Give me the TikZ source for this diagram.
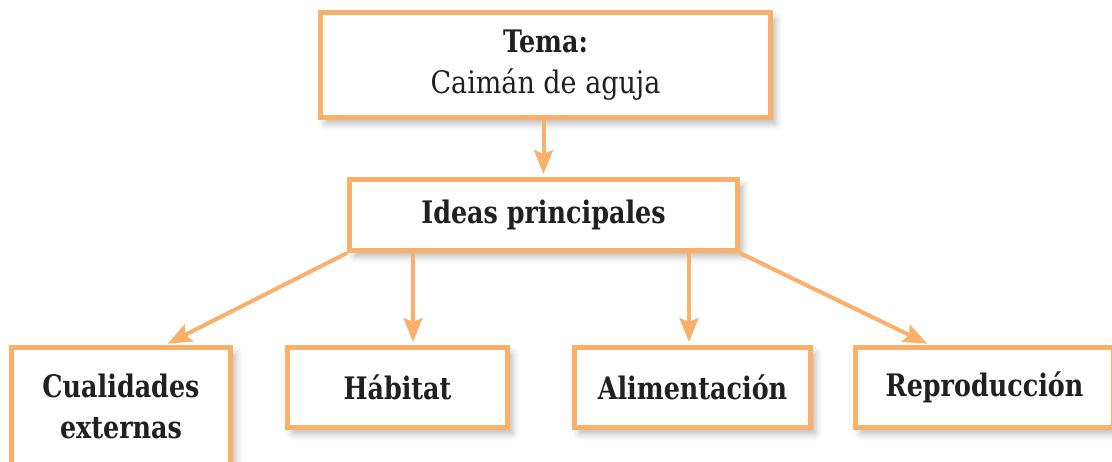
\documentclass[tikz,border=0pt]{standalone}
\usepackage{fontspec}
\setmainfont{DejaVu Serif}[FakeStretch=0.82]
\newfontfamily\regfont{DejaVu Serif}[FakeStretch=0.87]
\usetikzlibrary{arrows.meta,shadows.blur}
\definecolor{orng}{RGB}{251,176,106}
\definecolor{ink}{RGB}{35,31,32}
\tikzset{
  box/.style={draw=orng, line width=5pt, fill=white, inner sep=0pt,
    text=ink, align=center, font=\fontsize{31}{41}\selectfont\bfseries,
    blur shadow={shadow xshift=5pt, shadow yshift=-6pt, shadow blur radius=7pt, shadow opacity=28}},
  arr/.style={draw=orng, line width=4pt, -{Stealth[length=24pt,width=19pt,inset=4pt]}, shorten >=3pt}
}
\begin{document}
\begin{tikzpicture}[x=1pt,y=-1pt]
\useasboundingbox (0,0) rectangle (1112,461);
\node[box, minimum width=450pt, minimum height=105pt] (top) at (545.5,65)
  {Tema:\\\regfont\mdseries Caimán de aguja};
\node[box, minimum width=388pt, minimum height=71pt] (mid) at (543.5,215) {Ideas principales};
\node[box, minimum width=219pt, minimum height=117pt] (cual) at (121,406) {Cualidades\\externas};
\node[box, minimum width=220pt, minimum height=80pt] (hab) at (397.5,387.5) {Hábitat};
\node[box, minimum width=236pt, minimum height=80pt] (ali) at (692.5,387.5) {Alimentación};
\node[box, minimum width=258pt, minimum height=80pt] (rep) at (984.5,387.5) {Reproducción};
\draw[arr] (top.south -| mid.north) -- (mid.north);
\draw[arr] (mid.south west) -- ([xshift=44pt]cual.north);
\draw[arr] ([xshift=15.5pt]hab.north |- mid.south) -- ([xshift=15.5pt]hab.north);
\draw[arr] ([xshift=-3.5pt]ali.north |- mid.south) -- ([xshift=-3.5pt]ali.north);
\draw[arr] (mid.south east) -- ([xshift=-54.5pt]rep.north);
\end{tikzpicture}
\end{document}
